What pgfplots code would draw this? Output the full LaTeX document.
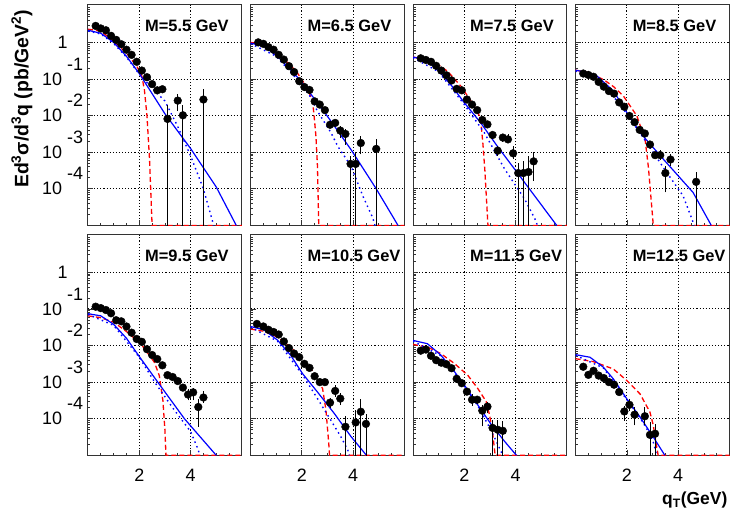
\documentclass[border=0pt]{standalone}
\usepackage{fontspec}
\setmainfont{Liberation Sans}
\usepackage{pgfplots}
\pgfplotsset{compat=1.18}
\usepgfplotslibrary{groupplots}
\usetikzlibrary{calc}

\definecolor{rootred}{RGB}{255,0,0}
\definecolor{rootblue}{RGB}{0,0,255}

\newcommand{\tl}[1]{10\smash{\rlap{\raisebox{15bp}{\kern5bp #1}}}}

\pgfplotsset{
  panel/.style={
    scale only axis, width=154bp, height=220.5bp,
    xmin=0, xmax=6, ymin=1e-5, ymax=10.5, ymode=log,
    xtick={2,4}, xticklabels={},
    minor xtick={0.5,1,1.5,2.5,3,3.5,4.5,5,5.5},
    ytick={1e-4,1e-3,1e-2,1e-1,1}, yticklabels={},
    minor ytick={2e-5,3e-5,4e-5,5e-5,6e-5,7e-5,8e-5,9e-5,
                 2e-4,3e-4,4e-4,5e-4,6e-4,7e-4,8e-4,9e-4,
                 2e-3,3e-3,4e-3,5e-3,6e-3,7e-3,8e-3,9e-3,
                 2e-2,3e-2,4e-2,5e-2,6e-2,7e-2,8e-2,9e-2,
                 0.2,0.3,0.4,0.5,0.6,0.7,0.8,0.9,2,3,4,5,6,7,8,9},
    tick align=inside, tick pos=left,
    major tick length=5bp, minor tick length=2.5bp,
    grid=major,
    major grid style={black, line width=0.9bp, dash pattern=on 1.1bp off 2bp},
    minor grid style={draw=none},
    axis line style={black!80, line width=1bp},
    tick style={black!80, line width=0.7bp},
    every tick label/.append style={font=\fontsize{18}{18}\selectfont, inner sep=0pt},
    yticklabel style={anchor=east, xshift=-25.6bp},
    xticklabel style={anchor=north, yshift=-13.5bp},
  },
  ylab/.style={yticklabels={\tl{-4},\tl{-3},\tl{-2},\tl{-1},{1\kern-5.5bp}}},
  xlab/.style={xticklabels={2,4}},
  reddash/.style={rootred, line width=1.3bp, dash pattern=on 5bp off 3bp},
  bluesolid/.style={rootblue, line width=1.2bp},
  bluedot/.style={rootblue, line width=1.4bp, dash pattern=on 1.5bp off 3.5bp},
  errs/.style={black, line width=0.9bp, empty line=jump},
  pts/.style={only marks, mark=*, mark size=3.9pt, black, mark options={fill=black, draw=black}},
}
\newcommand{\ptitle}[1]{\node[anchor=base west, inner sep=0pt, xshift=57bp, yshift=-26.7bp,
  font=\fontsize{16.5}{16.5}\selectfont\bfseries] at (rel axis cs:0,1) {#1};}

\begin{document}
\begin{tikzpicture}
\begin{groupplot}[group style={group size=4 by 2, horizontal sep=8.6bp, vertical sep=9.5bp}, panel]

% ---------------- M=5.5 ----------------
\nextgroupplot[ylab]
\addplot[reddash] table {
x y
0 2.29
0.5 2.04
1.0 1.07
1.5 0.513
1.9 0.224
2.1 0.120
2.2 0.0501
2.3 0.0100
2.4 6.31e-4
2.5 1e-5
6 1e-5
};
\addplot[bluesolid] table {
x y
0 2.14
0.5 1.78
1.0 1.00
1.5 0.417
2.0 0.141
2.5 0.0398
3.0 0.0112
4.0 1.26e-3
5.0 1.12e-4
5.78 1e-5
};
\addplot[bluedot] table {
x y
0 2.04
0.5 1.70
1.0 0.933
1.5 0.398
2.0 0.135
2.5 0.0562
3.0 0.0251
3.5 5.01e-3
4.0 7.94e-4
4.5 1e-4
4.9 1e-5
};
\addplot[errs] table {
x y
3.1 1e-6
3.1 0.0200

3.5 0.0132
3.5 0.0389

3.7 1e-6
3.7 0.0191

4.5 1e-6
4.5 0.0537
};
\addplot[pts] table {
x y
0.3 2.82
0.5 2.40
0.7 2.14
0.9 1.51
1.1 1.17
1.3 0.891
1.5 0.631
1.7 0.457
1.9 0.295
2.1 0.170
2.3 0.112
2.5 0.0724
2.7 0.0490
2.9 0.0525
3.1 8.13e-3
3.5 0.0257
3.7 0.0102
4.5 0.0275
};
\ptitle{M=5.5 GeV}

% ---------------- M=6.5 ----------------
\nextgroupplot
\addplot[reddash] table {
x y
0 1.0
0.5 0.871
1.05 0.457
1.5 0.263
1.83 0.145
2.22 0.0562
2.42 0.0245
2.48 9.55e-3
2.55 2.75e-3
2.61 4.17e-4
2.66 1e-5
6 1e-5
};
\addplot[bluesolid] table {
x y
0 0.955
0.5 0.794
1.05 0.417
1.5 0.200
2.03 0.0776
2.5 0.0282
3.0 9.55e-3
3.92 1.17e-3
4.9 1e-4
5.75 1e-5
};
\addplot[bluedot] table {
x y
0 0.933
1.0 0.417
1.96 0.0759
2.3 0.0355
2.61 0.0132
3.14 3.39e-3
3.4 1.45e-3
3.92 4.17e-4
4.38 6.31e-5
4.77 1.58e-5
4.85 1e-5
};
\addplot[errs] table {
x y
3.5 2.45e-3
3.5 5.13e-3

3.7 1.62e-3
3.7 4.37e-3

3.9 1e-6
3.9 7.94e-4

4.1 1e-6
4.1 1e-3

4.3 8.71e-4
4.3 2.75e-3

4.9 1e-6
4.9 2.29e-3
};
\addplot[pts] table {
x y
0.3 1.00
0.5 0.912
0.7 0.741
0.9 0.631
1.1 0.457
1.3 0.339
1.5 0.224
1.7 0.155
1.9 0.0871
2.1 0.0603
2.3 0.0501
2.5 0.0245
2.7 0.0200
2.9 0.0141
3.1 5.62e-3
3.3 6.31e-3
3.5 3.89e-3
3.7 3.16e-3
3.9 4.79e-4
4.1 4.79e-4
4.3 1.78e-3
4.9 1.23e-3
};
\ptitle{M=6.5 GeV}

% ---------------- M=7.5 ----------------
\nextgroupplot
\addplot[reddash] table {
x y
0 0.398
0.5 0.339
1.0 0.240
1.35 0.162
1.87 0.0631
2.39 0.0182
2.59 9.77e-3
2.66 5.01e-3
2.72 1.82e-3
2.8 3.16e-4
2.92 1e-5
6 1e-5
};
\addplot[bluesolid] table {
x y
0 0.398
0.5 0.331
1.0 0.166
1.5 0.0661
2.0 0.0224
2.63 6.46e-3
3.3 1.41e-3
4.0 3.16e-4
4.8 5.62e-5
5.6 1e-5
};
\addplot[bluedot] table {
x y
0 0.380
1.0 0.158
2.0 0.0200
2.78 3.39e-3
3.57 3.47e-4
4.35 5.25e-5
4.75 1.51e-5
4.85 1e-5
};
\addplot[errs] table {
x y
3.3 7.94e-4
3.3 1.48e-3

3.5 1.91e-3
3.5 3.16e-3

3.7 1.78e-3
3.7 3.16e-3

3.9 6.46e-4
3.9 1.48e-3

4.1 1e-6
4.1 5.01e-4

4.3 1e-6
4.3 5.62e-4

4.5 1e-6
4.5 7.94e-4

4.7 1.66e-4
4.7 1e-3
};
\addplot[pts] table {
x y
0.3 0.367
0.5 0.331
0.7 0.295
0.9 0.229
1.1 0.170
1.3 0.126
1.5 0.0912
1.7 0.0537
1.9 0.0490
2.1 0.0275
2.3 0.0200
2.5 0.0141
2.7 7.59e-3
2.9 5.75e-3
3.1 2.95e-3
3.3 1.10e-3
3.5 2.51e-3
3.7 2.24e-3
3.9 9.33e-4
4.1 2.69e-4
4.3 2.69e-4
4.5 2.88e-4
4.7 5.62e-4
};
\ptitle{M=7.5 GeV}

% ---------------- M=8.5 ----------------
\nextgroupplot
\addplot[reddash] table {
x y
0 0.174
0.5 0.151
1.10 0.0955
1.5 0.0603
1.87 0.0339
2.39 9.77e-3
2.71 2.24e-3
2.84 3.80e-4
3.03 1e-5
6 1e-5
};
\addplot[bluesolid] table {
x y
0 0.174
0.5 0.148
0.84 0.120
1.48 0.0468
2.0 0.0120
2.52 3.39e-3
3.42 6.46e-4
4.58 7.94e-5
5.29 1e-5
};
\addplot[bluedot] table {
x y
0 0.166
1.0 0.0891
2.0 0.0112
2.77 1.82e-3
3.55 2.82e-4
4.19 6.46e-5
4.58 1.23e-5
4.62 1e-5
};
\addplot[errs] table {
x y
3.3 6.31e-4
3.3 1.12e-3

3.5 7.94e-5
3.5 4.27e-4

3.7 4.27e-4
3.7 8.71e-4

4.7 1e-6
4.7 2.88e-4
};
\addplot[pts] table {
x y
0.3 0.141
0.5 0.129
0.7 0.115
0.9 0.0832
1.1 0.0617
1.3 0.0468
1.5 0.0398
1.7 0.0229
1.9 0.0174
2.1 9.77e-3
2.3 6.61e-3
2.5 4.07e-3
2.7 3.24e-3
2.9 1.62e-3
3.1 8.32e-4
3.3 8.32e-4
3.5 2.69e-4
3.7 6.31e-4
4.7 1.55e-4
};
\ptitle{M=8.5 GeV}

% ---------------- M=9.5 ----------------
\nextgroupplot[ylab, xlab]
\addplot[reddash] table {
x y
0 0.0646
0.5 0.0575
1.02 0.0427
1.54 0.0229
2.07 0.0110
2.59 3.47e-3
2.78 1.51e-3
2.92 3.16e-4
3.0 4.90e-5
3.04 1e-5
6 1e-5
};
\addplot[bluesolid] table {
x y
0 0.0741
0.5 0.0646
1.0 0.0380
1.5 0.0158
2.0 5.01e-3
2.72 1e-3
3.76 1e-4
5.0 1e-5
};
\addplot[bluedot] table {
x y
0 0.0708
1.0 0.0355
2.0 4.79e-3
2.6 1e-3
3.3 2.0e-4
4.0 4.47e-5
4.3 1.41e-5
4.35 1e-5
};
\addplot[errs] table {
x y
3.9 3.16e-4
3.9 6.61e-4

4.1 3.16e-4
4.1 7.08e-4

4.3 6.03e-5
4.3 3.55e-4

4.5 2.75e-4
4.5 5.89e-4
};
\addplot[pts] table {
x y
0.3 0.115
0.5 0.105
0.7 0.0933
0.9 0.0759
1.1 0.0490
1.3 0.0457
1.5 0.0331
1.7 0.0224
1.9 0.0151
2.1 0.0126
2.3 7.94e-3
2.5 5.50e-3
2.7 4.27e-3
2.9 2.88e-3
3.1 1.55e-3
3.3 1.38e-3
3.5 1.07e-3
3.7 7.08e-4
3.9 4.57e-4
4.1 5.25e-4
4.3 2.09e-4
4.5 3.80e-4
};
\ptitle{M=9.5 GeV}

% ---------------- M=10.5 ----------------
\nextgroupplot[xlab]
\addplot[reddash] table {
x y
0 0.0282
0.52 0.0245
1.05 0.0170
1.57 8.91e-3
2.09 3.89e-3
2.55 1.55e-3
2.81 6.61e-4
2.94 1.74e-4
3.05 2.14e-5
3.08 1e-5
6 1e-5
};
\addplot[bluesolid] table {
x y
0 0.0331
0.52 0.0269
1.05 0.0141
1.57 5.37e-3
2.03 1.70e-3
2.61 5.37e-4
3.27 1.38e-4
3.92 3.24e-5
4.52 1e-5
};
\addplot[bluedot] table {
x y
0 0.0316
1.05 0.0132
2.03 1.58e-3
2.61 3.55e-4
3.13 9.12e-5
3.52 3.24e-5
3.79 1.41e-5
3.85 1e-5
};
\addplot[errs] table {
x y
3.1 1.91e-4
3.1 3.80e-4

3.3 3.98e-4
3.3 8.13e-4

3.5 2.34e-4
3.5 5.13e-4

3.7 1e-6
3.7 1.17e-4

4.1 1e-6
4.1 1.74e-4

4.3 1e-6
4.3 3.39e-4

4.5 1e-6
4.5 1.38e-4
};
\addplot[pts] table {
x y
0.25 0.0389
0.5 0.0331
0.7 0.0269
0.9 0.0234
1.1 0.0200
1.3 0.0129
1.5 8.51e-3
1.7 6.03e-3
1.9 4.79e-3
2.1 3.16e-3
2.3 2.45e-3
2.5 1.45e-3
2.7 1.00e-3
2.9 1.00e-3
3.1 2.75e-4
3.3 5.75e-4
3.5 3.55e-4
3.7 6.03e-5
4.1 7.94e-5
4.3 1.55e-4
4.5 7.24e-5
};
\ptitle{M=10.5 GeV}

% ---------------- M=11.5 ----------------
\nextgroupplot[xlab]
\addplot[reddash] table {
x y
0 0.0107
0.56 9.12e-3
1.08 6.03e-3
1.61 3.24e-3
2.13 1.55e-3
2.52 6.76e-4
2.85 2.95e-4
2.98 1.29e-4
3.11 3.72e-5
3.2 1e-5
6 1e-5
};
\addplot[bluesolid] table {
x y
0 0.0138
0.56 0.0112
1.08 5.50e-3
1.61 1.95e-3
2.0 8.32e-4
2.52 2.40e-4
3.05 6.92e-5
3.57 2.40e-5
4.03 1e-5
};
\addplot[bluedot] table {
x y
0 0.0132
1.08 5.25e-3
2.0 7.94e-4
2.52 2.29e-4
2.92 6.92e-5
3.18 3.02e-5
3.5 1e-5
};
\addplot[errs] table {
x y
2.3 2.29e-4
2.3 4.68e-4

2.5 2.51e-4
2.5 4.17e-4

2.7 6.17e-5
2.7 2.40e-4

2.9 1.41e-4
2.9 2.95e-4

3.1 1e-6
3.1 9.33e-5

3.3 1e-6
3.3 9.33e-5

3.5 1e-6
3.5 8.51e-5
};
\addplot[pts] table {
x y
0.3 7.24e-3
0.5 7.76e-3
0.7 5.25e-3
0.9 3.98e-3
1.1 3.39e-3
1.3 3.09e-3
1.5 2.40e-3
1.7 1.23e-3
1.9 9.33e-4
2.1 5.50e-4
2.3 3.31e-4
2.5 3.31e-4
2.7 1.66e-4
2.9 2.14e-4
3.1 5.62e-5
3.3 5.01e-5
3.5 4.68e-5
};
\ptitle{M=11.5 GeV}

% ---------------- M=12.5 ----------------
\nextgroupplot[xlab]
\addplot[reddash] table {
x y
0 4.37e-3
0.69 3.63e-3
1.47 2.29e-3
1.99 1.12e-3
2.51 4.79e-4
2.9 1.51e-4
3.03 6.61e-5
3.13 2.29e-5
3.22 1e-5
6 1e-5
};
\addplot[bluesolid] table {
x y
0 5.62e-3
0.56 4.79e-3
1.08 2.57e-3
1.47 1.23e-3
1.99 3.55e-4
2.51 1.12e-4
3.03 3.16e-5
3.48 1e-5
};
\addplot[bluedot] table {
x y
0 5.37e-3
1.08 2.45e-3
1.99 3.39e-4
2.51 1.07e-4
2.77 5.37e-5
3.03 2.29e-5
3.16 1e-5
};
\addplot[errs] table {
x y
1.9 8.91e-5
1.9 2.29e-4

2.1 1.58e-4
2.1 3.55e-4

2.3 6.61e-5
2.3 2.09e-4

2.7 6.61e-5
2.7 2.09e-4

2.9 1e-6
2.9 8.13e-5

3.1 1e-6
3.1 7.24e-5
};
\addplot[pts] table {
x y
0.3 2.63e-3
0.5 1.58e-3
0.7 2.04e-3
0.9 1.51e-3
1.1 1.29e-3
1.3 1.00e-3
1.5 8.51e-4
1.7 5.37e-4
1.9 1.58e-4
2.1 2.40e-4
2.3 1.29e-4
2.7 1.17e-4
2.9 3.63e-5
3.1 3.89e-5
};
\ptitle{M=12.5 GeV}
\end{groupplot}

\node[rotate=90, anchor=east, inner sep=0pt, font=\fontsize{19.5}{19.5}\selectfont\bfseries]
  at ($(group c1r1.north west)+(-66bp,-5bp)$)
  {Ed\textsuperscript{3}σ/d\textsuperscript{3}q (pb/GeV\textsuperscript{2})};
\node[anchor=base east, inner sep=0pt, font=\fontsize{17.5}{17.5}\selectfont\bfseries]
  at ($(group c4r2.south east)+(-2bp,-49.5bp)$) {q\textsubscript{T}(GeV)};
\path (group c1r1.north west) ++(-88bp,5bp) rectangle ++(730bp,-509bp);
\end{tikzpicture}
\end{document}
